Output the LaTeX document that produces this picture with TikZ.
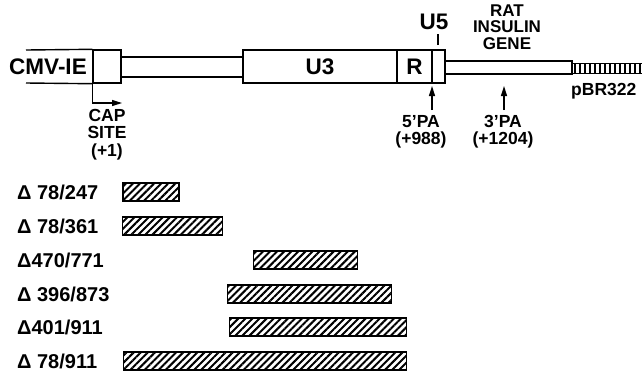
\documentclass[tikz,border=0pt]{standalone}
\usepackage{fontspec}
\setmainfont{Liberation Sans}
\usetikzlibrary{arrows.meta,positioning,patterns.meta}

\tikzset{
  seg/.style={draw,line width=1.4pt,inner sep=0pt,minimum height=33pt},
  thinbar/.style={draw,line width=1.4pt,inner sep=0pt},
  del/.style={draw,line width=1.4pt,inner sep=0pt,minimum height=18pt,anchor=west,
    pattern={Lines[angle=45,distance=5pt,line width=2pt]}},
  biglbl/.style={font=\fontsize{22.5}{24}\selectfont\bfseries,inner sep=0pt},
  smalllbl/.style={font=\fontsize{17.5}{17.5}\selectfont\bfseries,align=center,inner sep=0pt},
  dlbl/.style={font=\fontsize{20}{22}\selectfont\bfseries,anchor=west,inner sep=0pt},
  pa/.style={line width=1.4pt,-{Triangle[length=10pt,width=6pt]}}
}

\begin{document}
\begin{tikzpicture}[x=1pt,y=-1pt]
\useasboundingbox (0,0) rectangle (642,373);

% provirus map
\node[seg,minimum width=28pt] (cap) at (107,66.5) {};
\node[biglbl] (cmv) at (48,67) {CMV-IE};
\coordinate (cmvtop) at (26,50);
\coordinate (cmvbot) at (26,83);
\draw[line width=1.4pt] (cmvtop) -- (cap.north west);
\draw[line width=1.4pt] (cmvbot) -- (cap.south west);
\node[thinbar,minimum width=122pt,minimum height=20pt] (ltr) at (182,67) {};
\node[seg,minimum width=154pt] (u3) at (320,66.5) {};
\node[biglbl] at (u3) {U3};
\node[seg,minimum width=35pt] (r) at (414.5,66.5) {};
\node[biglbl] at (r) {R};
\node[seg,minimum width=13pt] (u5) at (438.5,66.5) {};
\node[biglbl] (u5lbl) at (434,22) {U5};
\coordinate (u5tick) at (438,45);
\draw[line width=1.4pt] (u5tick) -- ++(0,-11);
\node[thinbar,minimum width=127pt,minimum height=13pt] (ins) at (508.5,67.5) {};
\node[draw,line width=0.7pt,inner sep=0pt,minimum width=72pt,minimum height=10pt,
  pattern={Lines[angle=90,distance=5pt,line width=2.2pt]}] (pbr) at (608,68) {};
\node[smalllbl,anchor=west] (pbrlbl) at (571,91) {pBR322};
\node[smalllbl,font=\fontsize{17}{16.5}\selectfont\bfseries] (rat) at (507,27) {RAT\\INSULIN\\GENE};

% cap site and poly A sites
\coordinate (captip) at (122,103);
\draw[pa] (cap.south west) |- (captip);
\node[smalllbl,anchor=north] (capsite) at (107,109) {CAP\\SITE\\(+1)};
\coordinate (pa5tip) at (432,86);
\node[smalllbl,anchor=north] (pa5) at (421,115) {5’PA\\(+988)};
\draw[pa] ([yshift=5pt]pa5.north -| pa5tip) -- (pa5tip);
\coordinate (pa3tip) at (504,86);
\node[smalllbl,anchor=north] (pa3) at (503,115) {3’PA\\(+1204)};
\draw[pa] ([yshift=5pt]pa3.north -| pa3tip) -- (pa3tip);

% deletions
\node[dlbl] (l1) at (17,192) {Δ 78/247};
\node[del,minimum width=56pt] (d1) at (122,192) {};
\node[dlbl] (l2) at (17,226) {Δ 78/361};
\node[del,minimum width=100pt] (d2) at (122,226) {};
\node[dlbl] (l3) at (17,260) {Δ470/771};
\node[del,minimum width=104pt] (d3) at (253,260) {};
\node[dlbl] (l4) at (17,294) {Δ 396/873};
\node[del,minimum width=164pt] (d4) at (227,294) {};
\node[dlbl] (l5) at (17,327) {Δ401/911};
\node[del,minimum width=177pt] (d5) at (229,327) {};
\node[dlbl] (l6) at (17,361) {Δ 78/911};
\node[del,minimum width=283pt] (d6) at (123,361) {};
\end{tikzpicture}
\end{document}
